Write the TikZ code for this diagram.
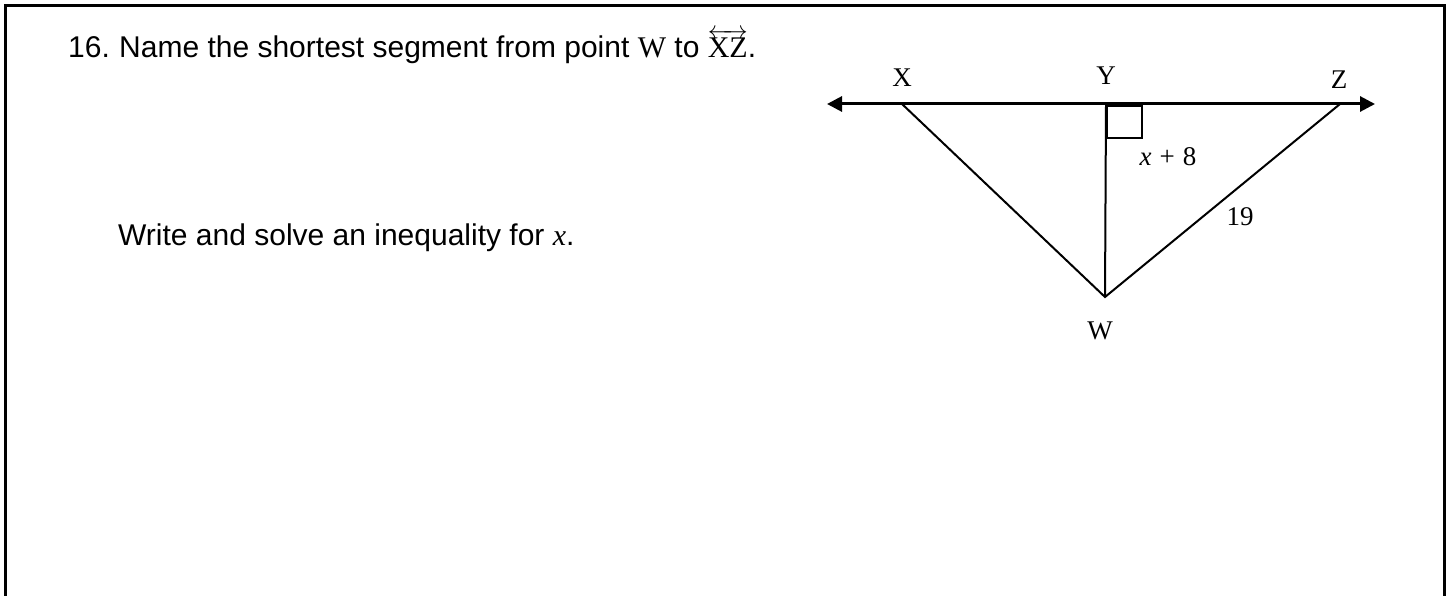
\documentclass[tikz,border=0pt]{standalone}
\usepackage{amsmath}
\usepackage{fontspec}
\setmainfont{Liberation Sans}
\newfontfamily\lblfont{Liberation Serif}
\usetikzlibrary{arrows.meta}
\begin{document}
\begin{tikzpicture}[x=1pt,y=-1pt,
  txt/.style={anchor=base west,inner sep=0pt,font=\fontsize{30}{36}\selectfont},
  lbl/.style={inner sep=0pt,font=\lblfont\fontsize{27}{32}\selectfont},
  seg/.style={line width=2pt},
  ln/.style={line width=3pt,{Triangle[length=15pt,width=15pt]}-{Triangle[length=15pt,width=15pt]}}]
\useasboundingbox (0,0) rectangle (1450,596);
\draw[line width=3pt] (5.5,600) -- (5.5,5.5) -- (1444.5,5.5) -- (1444.5,600);
\node[txt] (q) at (68,58) {\makebox[51pt][l]{16.}Name the shortest segment from point {\lblfont W} to {\lblfont$\overleftrightarrow{\mbox{XZ}}$}.};
\node[txt] (w) at (118,245) {Write and solve an inequality for {\lblfont\itshape x}.};
\coordinate (L) at (827,104);
\coordinate (R) at (1375,104);
\coordinate (X) at (902,104);
\coordinate (Y) at (1106,104);
\coordinate (Z) at (1340,104);
\coordinate (W) at (1105,297);
\draw[ln] (L) -- (R);
\draw[seg] (X) -- (W) -- (Z);
\draw[seg] (Y) -- (W);
\draw[seg] (1107,106) rectangle (1142,138);
\node[lbl] (lx) at (902,78) {X};
\node[lbl] (ly) at (1106,76) {Y};
\node[lbl] (lz) at (1339,80) {Z};
\node[lbl] (lw) at (1100,331) {W};
\node[lbl] (l8) at (1168,157) {{\itshape x}\hspace{8pt}+\hspace{8pt}8};
\node[lbl] (l19) at (1240,217) {19};
\end{tikzpicture}
\end{document}
